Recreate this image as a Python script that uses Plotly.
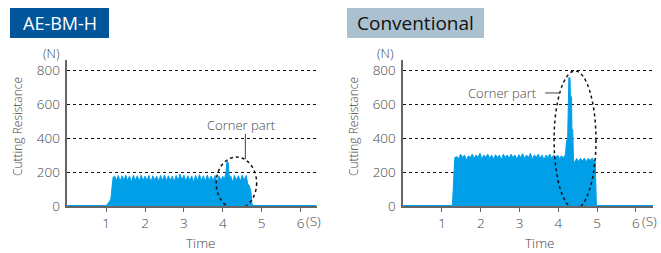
import plotly.graph_objects as go

# ---------------- data ----------------
t_ae = [0.0, 0.98, 1.03, 1.08, 1.12, 1.15, 1.18,
        1.22, 1.27, 1.31, 1.36, 1.41, 1.46, 1.50, 1.55, 1.60, 1.65, 1.70, 1.75, 1.80, 1.85, 1.90, 1.95,
        2.00, 2.05, 2.10, 2.15, 2.20, 2.25, 2.30, 2.35, 2.40, 2.45, 2.50, 2.55, 2.60, 2.65, 2.70, 2.75,
        2.80, 2.85, 2.90, 2.95, 3.00, 3.05, 3.10, 3.15, 3.20, 3.25, 3.30, 3.35, 3.40, 3.45, 3.50, 3.55,
        3.60, 3.65, 3.70, 3.75, 3.80, 3.85, 3.90, 3.95, 4.00, 4.04, 4.08, 4.11, 4.14, 4.17, 4.20, 4.25,
        4.30, 4.35, 4.40, 4.45, 4.50, 4.55, 4.60, 4.64, 4.68, 4.72, 4.75, 4.78, 6.41]
v_ae = [3, 3, 8, 25, 40, 110, 170,
        175, 150, 180, 145, 178, 148, 182, 150, 176, 142, 180, 150, 178, 145, 182, 148,
        176, 150, 180, 140, 178, 152, 175, 145, 180, 150, 183, 148, 178, 150, 176, 142,
        180, 150, 188, 152, 182, 145, 178, 150, 176, 140, 180, 150, 184, 148, 178, 145,
        182, 150, 176, 148, 180, 140, 178, 150, 175, 155, 200, 265, 255, 160, 178, 140,
        180, 150, 178, 145, 182, 150, 180, 130, 120, 90, 15, 3, 3]

t_conv = [0.0, 1.27, 1.30, 1.33, 1.38, 1.43, 1.48, 1.53, 1.58, 1.63, 1.68, 1.73, 1.78, 1.83, 1.88,
          1.93, 1.98, 2.03, 2.08, 2.13, 2.18, 2.23, 2.28, 2.33, 2.38, 2.43, 2.48, 2.53, 2.58, 2.63,
          2.68, 2.73, 2.78, 2.83, 2.88, 2.93, 2.98, 3.03, 3.08, 3.13, 3.18, 3.23, 3.28, 3.33, 3.38,
          3.43, 3.48, 3.53, 3.58, 3.63, 3.68, 3.73, 3.78, 3.83, 3.88, 3.93, 3.98, 4.03, 4.08, 4.13,
          4.18, 4.21, 4.24, 4.27, 4.30, 4.31, 4.34, 4.35, 4.37, 4.39, 4.42, 4.47, 4.52, 4.57, 4.62,
          4.67, 4.72, 4.77, 4.82, 4.87, 4.92, 4.95, 4.98, 5.00, 6.44]
v_conv = [3, 3, 150, 285, 290, 280, 305, 285, 300, 270, 295, 285, 305, 280, 300,
          285, 310, 275, 300, 285, 305, 280, 300, 275, 302, 285, 300, 270, 305, 285,
          300, 280, 305, 285, 300, 275, 302, 285, 308, 280, 300, 285, 310, 275, 300,
          285, 305, 280, 300, 270, 300, 285, 305, 280, 300, 285, 300, 280, 295, 285,
          300, 380, 400, 755, 755, 650, 640, 455, 450, 270, 255, 280, 262, 280, 265,
          282, 260, 280, 268, 282, 265, 262, 10, 3, 3]

y_ticks = [0, 200, 400, 600, 800]
x_ticks = [1, 2, 3, 4, 5, 6]

W, H = 661, 253
BLUE = "#009fe8"
GREY = "#444444"
FONT = "Open Sans"


def px(x):
    return x / W


def py(y):
    return 1 - y / H


fig = go.Figure()
fig.add_trace(go.Scatter(x=t_ae, y=v_ae, mode="lines", fill="tozeroy",
                         line=dict(color=BLUE, width=1), fillcolor=BLUE,
                         xaxis="x", yaxis="y", showlegend=False, hoverinfo="skip"))
fig.add_trace(go.Scatter(x=t_conv, y=v_conv, mode="lines", fill="tozeroy",
                         line=dict(color=BLUE, width=1), fillcolor=BLUE,
                         xaxis="x2", yaxis="y2", showlegend=False, hoverinfo="skip"))

tickfont = dict(family=FONT, size=13.5, color=GREY, weight=300)
common_x = dict(tickvals=x_ticks, ticks="outside", ticklen=4, tickcolor="#666",
                showline=True, linecolor="#666", linewidth=1.5, showgrid=False,
                zeroline=False, tickfont=tickfont, automargin=False)
common_y = dict(tickvals=y_ticks, ticks="", showline=True, linecolor="#666", linewidth=1.5,
                showgrid=True, gridcolor="#111", griddash="dot", gridwidth=1,
                zeroline=False, range=[0, 859], ticklabelstandoff=3, tickfont=tickfont,
                automargin=False)

dom_y = [py(206), py(60)]
fig.update_layout(
    width=W, height=H, margin=dict(l=0, r=0, t=0, b=0, pad=0),
    paper_bgcolor="white", plot_bgcolor="white",
    xaxis=dict(domain=[px(67.3), px(316.5)], range=[0, 6.41], anchor="y", **common_x),
    yaxis=dict(domain=dom_y, anchor="x", **common_y),
    xaxis2=dict(domain=[px(403.2), px(653)], range=[0, 6.44], anchor="y2", **common_x),
    yaxis2=dict(domain=dom_y, anchor="x2", **common_y),
)

shapes = [
    dict(type="rect", xref="paper", yref="paper", x0=px(10), x1=px(109), y0=py(38), y1=py(8),
         fillcolor="#00559b", line=dict(width=0)),
    dict(type="rect", xref="paper", yref="paper", x0=px(347), x1=px(484), y0=py(38), y1=py(8),
         fillcolor="#abc1cf", line=dict(width=0)),
    dict(type="circle", xref="x", yref="y", x0=3.83, x1=4.87, y0=-18, y1=288,
         line=dict(color="#111", width=1.5, dash="dot")),
    dict(type="circle", xref="x2", yref="y2", x0=3.89, x1=4.97, y0=-18, y1=794,
         line=dict(color="#111", width=1.5, dash="dot")),
    dict(type="line", xref="x", yref="y", x0=4.58, x1=4.58, y0=424, y1=276,
         line=dict(color=GREY, width=1)),
    dict(type="line", xref="x2", yref="y2", x0=3.66, x1=4.05, y0=665, y1=665,
         line=dict(color=GREY, width=1)),
]
fig.update_layout(shapes=shapes)

ann = []
def txt(x, y, s, size=13.5, color=GREY, angle=0, xanchor="center", yanchor="middle", weight=300):
    ann.append(dict(x=px(x), y=(0 if y is None else py(y)), xref="paper", yref="paper", text=s,
                    showarrow=False, xanchor=xanchor, yanchor=yanchor, textangle=angle,
                    borderpad=0,
                    font=dict(family=FONT, size=size, color=color, weight=weight)))

txt(59.5, 23, "AE-BM-H", size=18, color="white", weight=400)
txt(415.5, 23, "Conventional", size=19, color="#111", weight=400)
txt(51, 52.5, "(N)", size=13)
txt(385, 52.5, "(N)", size=13)
txt(305, 221, "(S)", xanchor="left")
txt(641, 221, "(S)", xanchor="left")
txt(200, None, "Time", yanchor="bottom")
txt(539, None, "Time", yanchor="bottom")
txt(17, 127, "Cutting Resistance", size=12, angle=-90)
txt(353, 127, "Cutting Resistance", size=12, angle=-90)
txt(241, 125, "Corner part", size=13)
txt(502, 93, "Corner part", size=13)
fig.update_layout(annotations=ann)

fig.write_html("out.html", config={"displayModeBar": False},
               post_script="document.body.style.margin='0';document.body.style.overflow='hidden';")
